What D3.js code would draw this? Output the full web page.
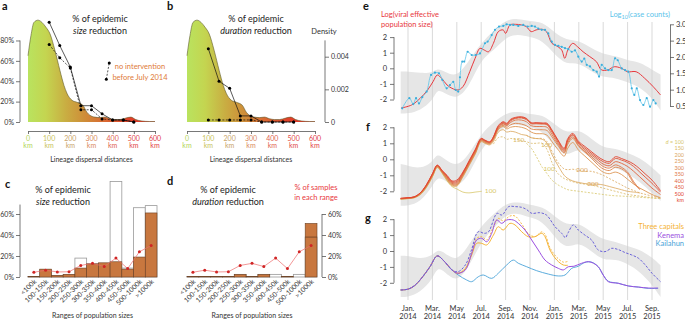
<!DOCTYPE html>
<html><head><meta charset="utf-8">
<script src="https://cdn.jsdelivr.net/npm/d3@7"></script>
<style>
body{margin:0;background:#fff;}
svg{display:block;font-family:Lato,'Open Sans',sans-serif;}
</style></head><body>
<svg id="chart" width="685" height="319"></svg>
<script>
// ---------------- DATA: panels a & b ----------------
const densKm  = [0,14,28,47,66,85,104,127,151,170,184,208,231,259,278,292,316,340,363,387,410,434,462,486,509,538,575,600];
const densVal = [4.06,5.3,6.1,6.24,6.1,5.8,5.4,4.4,3.15,2.24,1.76,1.33,1.21,1.03,0.6,0.42,0.3,0.27,0.3,0.2,0.15,0.15,0.24,0.3,0.15,0.06,0.03,0.03]; // x1e-3
const distKm       = [100,150,200,250,300,350,400,450,500];
const sizeRed      = [98,75,54,16,16,8,2,2,0];
const sizeRedNoInt = [76,63,53,12,12,3,2,2,0];
const durRed       = [72,40,33,6,6,0,0,0,0];
const durRedNoInt  = [2,2,2,2,2,0,0,0,0];
const kmTicks      = [0,100,200,300,400,500,600];
const kmTickColors = ["#b3d55a","#c8c35c","#c9a46a","#d98a60","#e0634f","#e24a48","#e23a3f"];
const pctTicksA    = [0,20,40,60,80];
const densTicks    = [0,0.002,0.004];

// ---------------- DATA: panels c & d ----------------
const popCats   = ["<100k","100-150k","150-200k","200-250k","250-300k","300-350k","350-400k","400-450k","450-500k","500-1000k",">1000k"];
const cSize      = [0.5,7.5,1.5,2.5,8.5,12.5,13.5,14.5,7.5,19,61];
const cSizeNoInt = [0.5,7,1.5,2.5,18,12.5,13,91,8.5,66,68];
const dDur       = [0.4,0.4,0.4,0.4,2.5,0.4,2.5,0,0.4,0,51];
const dDurNoInt  = [0.4,0.4,0.4,0.4,2.5,0.4,2.5,2.5,0.4,2.5,38];
const sampPct    = [4.5,6.5,4.8,5,11,13,10,18,8,24,30];
const pctTicksCD = [0,20,40,60];

// ---------------- DATA: panels e, f, g (time in months since Jan 2014) ----------------
const monthTicks = [0,2,4,6,8,10,12,14,16,18,20];
const monthLab = ["Jan.","Mar.","May","Jul.","Sep.","Nov.","Jan.","Mar.","May","Jul.","Sep."];
const yearLab  = ["2014","2014","2014","2014","2014","2014","2015","2015","2015","2015","2015"];

const neT = [-0.57,0.3,1,1.6,2.05,2.4,2.75,3.2,3.6,4.1,4.5,5.06,5.5,5.9,6.25,6.6,7,7.4,7.8,8,8.36,8.8,9.3,9.7,10.1,10.5,11,11.35,11.8,12.3,12.6,12.85,13.1,13.5,13.9,14.35,14.9,15.45,15.85,16.4,16.9,17.5,18,18.7,19.4,20.1,20.7];
const neV = [-2.55,-2.35,-1.92,-1.4,-0.86,-0.43,-0.64,-1.07,-1.28,-1.39,-1.18,-0.22,0.64,1.28,1.17,1.06,1.6,2.35,2.46,2.24,2.78,2.82,2.78,2.67,2.35,2.46,2.5,2.35,1.6,1.38,1.17,0.64,1.17,1.6,1.38,1.06,0.75,0.42,-0.1,-0.1,0.1,0,-0.22,-0.22,-0.64,-1.18,-1.71];
const caseT = [-0.47,0.11,0.43,0.66,0.9,1.17,1.53,1.89,2.21,2.54,2.81,3.17,3.44,3.71,3.91,4.12,4.26,4.45,4.61,4.89,5.22,5.55,5.9,6.31,6.53,6.86,7.13,7.46,7.81,8.09,8.36,8.63,9.04,9.45,9.81,10.14,10.41,10.68,10.96,11.23,11.5,11.78,12.05,12.32,12.6,12.87,13.14,13.42,13.69,13.96,14.24,14.45,14.65,14.92,15.19,15.47,15.66,15.88,16.15,16.42,16.7,16.97,17.19,17.52,17.79,18.06,18.34,18.55,18.75,19.02,19.29,19.57,19.84,20.11,20.3];
const caseV = [0.43,0.74,0.56,0.74,0.58,0.77,0.94,1.45,1.52,1.5,1.3,1.04,1.14,1.24,0.99,0.94,1.38,1.86,1.86,2.16,2.06,2.06,2.11,2.42,2.47,2.67,2.83,2.93,2.95,3.0,2.98,2.98,2.95,2.98,2.93,2.95,2.93,2.87,2.83,2.83,2.72,2.47,2.37,2.34,2.31,2.27,2.24,2.16,2.2,2.01,1.86,1.95,1.76,1.71,1.6,1.55,1.4,1.76,1.65,1.6,1.6,1.96,1.9,1.65,1.6,1.55,1.04,0.84,1.04,0.68,0.53,0.74,0.48,0.68,0.58];

const bandT = [-0.6,0,1,2,2.4,3,4,5,6,7,8,9,10,11,12,13,14,15,16,17,18,19,20,20.7];
const eHi = [-0.2,-0.2,-0.3,-0.3,0.0,-0.2,-0.6,0.5,1.6,2.4,3.1,3.2,3.0,3.0,2.3,1.8,1.8,1.3,0.9,0.8,0.5,0.4,-0.1,-0.4];
const eLo = [-2.9,-2.9,-2.7,-2.1,-1.3,-1.6,-2.0,-1.2,0.6,1.1,2.0,2.2,2.0,1.8,0.9,0.2,0.4,-0.2,-0.6,-0.6,-0.9,-1.2,-1.9,-2.7];
const fHi = [-0.3,-0.4,-0.6,-0.2,0.4,0.0,-0.5,0.3,1.6,2.3,2.9,3.0,2.8,2.8,2.2,1.6,1.9,1.3,0.7,0.7,0.4,0.1,-0.5,-1.0];
const fLo = [-2.9,-2.9,-2.7,-1.7,-1.1,-1.3,-1.8,-1.0,0.7,1.4,2.1,2.2,2.0,1.8,0.8,0.1,0.8,0.0,-0.5,-0.5,-0.9,-1.4,-2.1,-2.6];
const gHi = [-0.3,-0.3,-0.5,-0.3,0.1,-0.1,-0.7,0.4,1.6,2.3,3.0,3.1,2.9,2.8,2.2,1.6,1.8,1.2,0.7,0.6,0.3,0.1,-0.4,-0.9];
const gLo = [-2.9,-2.9,-2.6,-1.8,-1.0,-1.3,-2.0,-1.0,0.6,1.4,2.3,2.4,2.1,1.9,0.9,0.1,0.6,0.0,-0.6,-0.5,-0.8,-1.3,-2.1,-2.9];

const fT = [-0.6,0,0.5,1,1.5,2,2.4,2.8,3.2,3.6,4,4.5,5,5.5,6,6.3,6.7,7,7.4,7.8,8.1,8.4,8.8,9.3,9.7,10.1,10.5,11,11.4,11.8,12.3,12.8,13.1,13.5,14,14.5,15,15.5,16,16.5,17,17.5,18,18.5,19,19.5,20,20.7];
const f500 = [-2.44,-2.4,-2.35,-2.1,-1.6,-0.9,-0.36,-0.7,-1.0,-1.35,-1.3,-0.8,-0.1,0.6,1.31,1.2,1.1,1.41,2.1,2.35,2.25,2.5,2.62,2.66,2.56,2.29,2.29,2.27,2.25,1.83,1.2,0.69,1.3,1.62,1.1,0.8,0.5,0.2,-0.04,-0.15,0.16,0.05,-0.1,-0.3,-0.6,-0.95,-1.3,-1.96];
const f450 = [-2.44,-2.4,-2.35,-2.1,-1.62,-0.92,-0.38,-0.72,-1.05,-1.4,-1.38,-0.85,-0.15,0.55,1.28,1.18,1.08,1.38,2.05,2.3,2.2,2.45,2.58,2.62,2.52,2.26,2.26,2.24,2.2,1.78,1.15,0.62,1.22,1.55,1.02,0.7,0.4,0.1,-0.15,-0.25,0.05,-0.05,-0.2,-0.45,-0.8,-1.15,-1.5,-2.05];
const f400 = [-2.45,-2.41,-2.36,-2.12,-1.64,-0.95,-0.4,-0.75,-1.1,-1.45,-1.45,-0.9,-0.2,0.5,1.25,1.15,1.05,1.35,2.0,2.25,2.15,2.4,2.55,2.58,2.48,2.22,2.22,2.2,2.15,1.7,1.05,0.55,1.15,1.5,0.95,0.6,0.3,0.0,-0.3,-0.4,-0.15,-0.25,-0.45,-0.75,-1.1,-1.45,-1.8,-2.2];
const f350 = [-2.46,-2.42,-2.37,-2.14,-1.66,-0.98,-0.42,-0.78,-1.15,-1.5,-1.52,-0.95,-0.25,0.45,1.22,1.12,1.02,1.3,1.95,2.2,2.1,2.3,2.45,2.45,2.35,2.1,2.05,2.05,2.0,1.55,0.95,0.45,1.05,1.4,0.85,0.5,0.2,-0.15,-0.45,-0.55,-0.35,-0.5,-0.8,-1.4,-1.9,null,null,null];
const f300 = [-2.47,-2.43,-2.38,-2.16,-1.7,-1.02,-0.45,-0.8,-1.2,-1.55,-1.58,-1.0,-0.3,0.4,1.18,1.08,0.98,1.25,1.9,2.12,2.0,2.15,2.25,2.2,2.1,1.9,1.85,1.85,1.8,1.4,0.85,0.4,0.95,1.3,0.8,0.45,0.1,-0.3,-0.6,-0.7,-0.5,-0.6,-0.9,-1.5,-1.85,null,null,null];
const f250 = [-2.48,-2.44,-2.39,-2.18,-1.72,-1.05,-0.48,-0.82,-1.25,-1.6,-1.62,-1.05,-0.35,0.35,1.15,1.05,0.95,1.2,1.85,2.05,1.9,2.0,2.05,2.0,1.9,1.7,1.6,1.6,1.5,1.1,0.6,0.2,0.7,1.05,0.55,0.2,-0.15,-0.5,-0.8,-0.9,-0.8,-0.95,-1.25,-1.55,-1.8,-2.0,-2.2,-2.4];
const f200 = [-2.49,-2.45,-2.4,-2.2,-1.75,-1.08,-0.5,-0.85,-1.3,-1.65,-1.68,-1.1,-0.4,0.3,1.1,1.0,0.9,1.1,1.7,1.85,1.7,1.75,1.7,1.55,1.5,1.35,1.3,1.25,1.0,0.3,-0.4,-1.0,-1.2,-1.35,-1.45,-1.52,-1.55,-1.55,-1.6,-1.7,-1.8,-1.9,-2.0,-2.05,-2.1,null,null,null];
const f200d = [null,null,null,null,null,null,null,null,null,null,null,null,null,null,null,null,null,null,null,null,null,null,null,null,1.5,1.35,1.3,1.3,1.1,0.5,-0.2,-0.6,-0.65,-0.62,-0.7,-0.75,-0.75,-0.85,-1.0,-1.2,-1.4,-1.6,-1.8,-1.95,-2.1,-2.2,-2.3,-2.4];
const f150d = [null,null,null,null,null,null,null,null,null,null,null,null,null,null,null,null,null,0.95,1.35,1.4,1.25,1.3,1.25,1.15,1.1,1.0,1.0,1.0,0.6,-0.2,-0.9,-1.2,-1.3,-1.4,-1.5,-1.55,-1.6,-1.7,-1.8,-1.9,-2.0,-2.1,-2.2,-2.25,-2.3,-2.35,-2.4,-2.45];
const f100d = [null,null,null,null,null,null,null,null,null,null,null,null,null,null,null,null,null,null,null,null,null,null,null,null,1.0,0.7,0.2,-0.5,-0.9,-1.3,-1.6,-1.8,-1.9,-1.95,-2.0,-2.05,-2.1,-2.15,-2.2,-2.25,-2.28,-2.3,-2.32,-2.35,-2.37,-2.4,-2.42,-2.45];
const f100T = [-0.6,0,0.5,1,1.5,2,2.4,2.8,3.2,3.6,4,4.5,5,5.5,6.05];
const f100  = [-2.5,-2.46,-2.41,-2.22,-1.78,-1.1,-0.52,-0.88,-1.35,-1.7,-1.85,-2.05,-2.1,-2.05,-2.0];
const fLegend = ["100","150","200","250","300","350","400","450","500"];

const gOverallT = [-0.6,0,0.5,1.1,1.8,2.4,3.0,3.6,4.1,4.7,5.2,5.75,6.25,6.6,7.3,7.7,8.25,8.8,9.3,9.7,10.15,10.8,11.35,12.05,12.6,12.9,13.1,13.55,13.96,14.5,15.05,15.6,16.15,16.7,17.2,17.8,18.34,18.9,19.45,20,20.7];
const gOverallV = [-2.45,-2.4,-2.2,-1.72,-0.99,-0.31,-0.67,-1.19,-1.3,-0.88,0.06,1.21,1.11,1.21,2.37,2.26,2.79,2.79,2.75,2.62,2.37,2.41,2.26,1.53,1.11,0.84,1.11,1.64,1.32,1.0,0.69,0.06,-0.04,0.17,0.1,-0.1,-0.25,-0.46,-0.88,-1.4,-1.93];
const gKenemaT = [-0.6,0,0.5,1.1,1.8,2.4,3.0,3.6,4.1,4.7,5.22,5.63,6.04,6.45,6.86,7.27,7.68,8.09,8.63,9.04,9.59,10.14,10.68,11.23,11.78,12.32,12.73,13.14,13.6,14.24,14.78,15.2,15.6,16.0,16.42,17.24,18.06,18.9,19.7,20.5];
const gKenemaV = [-2.45,-2.4,-2.2,-1.72,-0.99,-0.31,-0.67,-1.19,-1.4,-1.19,-0.15,0.69,0.8,0.58,1.11,1.95,1.74,1.95,1.95,1.74,1.32,0.69,0.06,-0.57,-0.88,-1.09,-1.19,-0.99,-0.96,-0.77,-0.67,-0.77,-0.99,-1.51,-1.93,-2.03,-2.2,-2.27,-2.33,-2.33];
const gKailahunT = [-0.6,0,0.5,1.1,1.8,2.4,3.0,3.6,4.12,4.8,5.22,5.76,6.17,6.86,7.4,8.09,8.63,9.04,9.73,10.55,11.5,12.32,12.87,13.42,13.96,14.5,15.05,15.6,16.0,16.42,17.24,18.06,18.9,19.7,20.5];
const gKailahunV = [-2.45,-2.4,-2.2,-1.72,-0.99,-0.31,-0.67,-1.19,-1.51,-1.82,-1.93,-1.62,-1.51,-1.72,-1.4,-0.88,-0.57,-0.77,-0.99,-1.24,-1.45,-1.57,-1.51,-1.09,-0.96,-0.72,-0.7,-1.0,-1.51,-1.9,-2.03,-2.2,-2.27,-2.35,-2.35];
const gCapT = [-0.6,0,0.5,1.1,1.8,2.4,3.0,3.6,4.1,4.7,5.22,5.63,6.04,6.45,7.0,7.4,7.8,8.36,8.77,9.32,9.86,10.4,10.96,11.23,11.64,12.2,12.73,13.1];
const gCapV = [-2.45,-2.4,-2.2,-1.72,-0.99,-0.31,-0.67,-1.19,-1.4,-1.1,-0.25,0.48,0.48,0.38,1.0,1.53,1.32,1.74,1.64,1.21,0.9,0.9,1.11,0.9,0.06,-0.57,-0.88,-0.9];
const gCapDashV = [-2.45,-2.4,-2.2,-1.72,-0.99,-0.31,-0.67,-1.19,-1.42,-1.12,-0.1,0.8,0.9,0.7,1.5,2.05,1.9,2.2,2.2,1.7,1.1,0.9,1.2,1.05,0.2,-0.4,-0.7,-0.65];

// ---------------- DRAWING ----------------
const svg = d3.select("#chart");
const FONT = "Lato,'Open Sans',sans-serif";
const defs = svg.append("defs");
const AX = "#555", TXT = "#333";

function styleAxis(g, fs){
  g.attr("font-family", FONT).attr("font-size", fs || 7);
  g.selectAll("line").attr("stroke", AX).attr("stroke-width", 0.8);
  g.selectAll("path").attr("stroke", AX).attr("stroke-width", 0.8);
  g.selectAll("text").attr("fill", TXT);
}
function text(x, y, s, o){
  o = o || {};
  const t = svg.append("text").attr("x", x).attr("y", y).text(s)
    .attr("font-size", o.fs || 8).attr("fill", o.fill || TXT)
    .attr("text-anchor", o.anchor || "start").attr("font-family", FONT);
  if (o.bold) t.attr("font-weight", "bold");
  if (o.italic) t.attr("font-style", "italic");
  return t;
}
function twoLineTitle(x, y1, y2, word){
  text(x, y1, "% of epidemic", {fs: 9, anchor: "middle", fill: "#222"});
  const t = text(x, y2, "", {fs: 9, anchor: "middle", fill: "#222"});
  t.append("tspan").attr("font-style", "italic").text(word);
  t.append("tspan").text(" reduction");
}

[["a",2,10],["b",167,10],["c",5,188],["d",167,185],["e",363,10],["f",366,131],["g",365,222]]
  .forEach(([l,x,y]) => text(x, y, l, {fs: 11, bold: true, fill: "#111"}));

// ---- panels a, b ----
const xA = d3.scaleLinear().domain([0,600]).range([28,155]);
const xB = d3.scaleLinear().domain([0,600]).range([187,315]);
const yPct = d3.scaleLinear().domain([0,100]).range([122,20.1]);
const yDen = d3.scaleLinear().domain([0,0.004]).range([122,56.7]);
const gradStops = [[0,"#b9e35f"],[0.14,"#c4d550"],[0.3,"#c9ad42"],[0.45,"#cf8c38"],[0.6,"#d96a32"],[0.78,"#e0432a"],[1,"#e32c24"]];

function densPanel(x, gid){
  const gr = defs.append("linearGradient").attr("id", gid).attr("gradientUnits","userSpaceOnUse")
    .attr("x1", x(0)).attr("x2", x(600)).attr("y1", 0).attr("y2", 0);
  gradStops.forEach(([o,c]) => gr.append("stop").attr("offset", o).attr("stop-color", c));
  const area = d3.area().x((d,i) => x(densKm[i])).y0(yDen(0)).y1(d => yDen(d/1000)).curve(d3.curveMonotoneX);
  svg.append("path").datum(densVal).attr("d", area).attr("fill", `url(#${gid})`);
  const ln = d3.line().x((d,i) => x(densKm[i])).y(d => yDen(d/1000)).curve(d3.curveMonotoneX);
  svg.append("path").datum(densVal).attr("d", ln).attr("fill","none").attr("stroke","#5e5b2c").attr("stroke-width",0.6);
  const ax = svg.append("g").attr("transform","translate(0,131)")
    .call(d3.axisBottom(x).tickValues(kmTicks).tickSize(3).tickSizeOuter(0).tickFormat(""));
  styleAxis(ax);
  kmTicks.forEach((k,i) => {
    text(x(k), 141, String(k), {fs: 7, anchor: "middle", fill: kmTickColors[i]});
    text(x(k), 148, "km", {fs: 7, anchor: "middle", fill: kmTickColors[i]});
  });
  text((x(0)+x(600))/2, 162, "Lineage dispersal distances", {fs: 7, anchor: "middle"});
}
function ptsLine(x, vals, dashed){
  const ln = d3.line().x((d,i) => x(distKm[i])).y(d => yPct(d));
  svg.append("path").datum(vals).attr("d", ln).attr("fill","none").attr("stroke","#111")
    .attr("stroke-width",0.7).attr("stroke-dasharray", dashed ? "2,1.5" : null);
  svg.append("g").selectAll("circle").data(vals).join("circle")
    .attr("cx",(d,i) => x(distKm[i])).attr("cy", d => yPct(d)).attr("r",1.5).attr("fill","#000");
}
densPanel(xA, "gA");
densPanel(xB, "gB");
ptsLine(xA, sizeRed, false);
ptsLine(xA, sizeRedNoInt, true);
ptsLine(xB, durRed, false);
ptsLine(xB, durRedNoInt, true);

{
  const g = svg.append("g").attr("transform","translate(20,0)")
    .call(d3.axisLeft(yPct).tickValues(pctTicksA).tickFormat(d => d + "%").tickSize(4).tickPadding(2));
  g.select(".domain").remove();
  g.append("line").attr("y1", yPct(0)).attr("y2", yPct(80));
  styleAxis(g, 7);
}
{
  const g = svg.append("g").attr("transform","translate(325,0)")
    .call(d3.axisRight(yDen).tickValues(densTicks).tickFormat(d => d === 0 ? "0" : d3.format(".3f")(d)).tickSize(4).tickPadding(2));
  g.select(".domain").remove();
  g.append("line").attr("y1", yDen(0)).attr("y2", yDen(0.005));
  styleAxis(g, 7);
  text(324, 34, "Density", {fs: 7.5, anchor: "middle"});
}
twoLineTitle(100, 22, 34, "size");
twoLineTitle(256, 22, 34, "duration");
{
  const p = [[xA(370), yPct(42)], [xA(384), yPct(58)]];
  svg.append("path").attr("d", d3.line()(p)).attr("stroke","#111").attr("stroke-width",0.7).attr("stroke-dasharray","2,1.5");
  p.forEach(q => svg.append("circle").attr("cx", q[0]).attr("cy", q[1]).attr("r", 1.5).attr("fill","#000"));
  text(140, 69, "no intervention", {fs: 7.5, anchor: "middle", fill: "#e07b39"});
  text(140, 80, "before July 2014", {fs: 7.5, anchor: "middle", fill: "#e07b39"});
}

// ---- panels c, d ----
const xC = d3.scaleBand().domain(popCats).range([28,157]).padding(0);
const xD = d3.scaleBand().domain(popCats).range([187,317]).padding(0);
const yBar = d3.scaleLinear().domain([0,100]).range([277,172]);
const BROWN = "#c8773f", BROWN_D = "#6b4023";

function barPanel(x, filled, hollow, axisSide){
  const bw = x.bandwidth();
  svg.append("g").selectAll("rect").data(popCats).join("rect")
    .attr("x", d => x(d)).attr("width", bw)
    .attr("y", (d,i) => yBar(hollow[i])).attr("height", (d,i) => yBar(0) - yBar(hollow[i]))
    .attr("fill","#fff").attr("stroke","#9a9a9a").attr("stroke-width",0.8);
  svg.append("g").selectAll("rect").data(popCats).join("rect")
    .attr("x", d => x(d)).attr("width", bw)
    .attr("y", (d,i) => yBar(filled[i])).attr("height", (d,i) => yBar(0) - yBar(filled[i]))
    .attr("fill", BROWN).attr("stroke", BROWN_D).attr("stroke-width",0.6)
    .attr("display", (d,i) => filled[i] > 0 ? null : "none");
  svg.append("g").selectAll("line").data(popCats.filter((d,i) => hollow[i] < filled[i] - 3)).join("line")
    .attr("x1", d => x(d)).attr("x2", d => x(d) + bw)
    .attr("y1", d => yBar(hollow[popCats.indexOf(d)])).attr("y2", d => yBar(hollow[popCats.indexOf(d)]))
    .attr("stroke", BROWN_D).attr("stroke-width", 0.8);
  const ln = d3.line().x((d,i) => x(popCats[i]) + bw/2).y(d => yBar(d));
  svg.append("path").datum(sampPct).attr("d", ln).attr("fill","none").attr("stroke","#ec6a6a").attr("stroke-width",0.7);
  svg.append("g").selectAll("circle").data(sampPct).join("circle")
    .attr("cx", (d,i) => x(popCats[i]) + bw/2).attr("cy", d => yBar(d)).attr("r", 1.5).attr("fill","#d02525");
  popCats.forEach(c => {
    const cx = x(c) + bw/2 + 3, cy = 282;
    text(cx, cy, c, {fs: 6.8, anchor: "end"}).attr("transform", `rotate(-45,${cx},${cy})`);
  });
  text((x.range()[0] + x.range()[1]) / 2, 317.5, "Ranges of population sizes", {fs: 7, anchor: "middle"});
  if (axisSide === "left") {
    const g = svg.append("g").attr("transform","translate(20,0)")
      .call(d3.axisLeft(yBar).tickValues(pctTicksCD).tickFormat(d => d + "%").tickSize(4).tickPadding(2));
    g.select(".domain").remove();
    g.append("line").attr("y1", yBar(0)).attr("y2", yBar(69));
    styleAxis(g, 7);
  } else {
    const g = svg.append("g").attr("transform","translate(322,0)")
      .call(d3.axisRight(yBar).tickValues(pctTicksCD).tickFormat(d => d + "%").tickSize(4).tickPadding(2));
    g.select(".domain").remove();
    g.append("line").attr("y1", yBar(0)).attr("y2", yBar(60));
    styleAxis(g, 7);
  }
}
barPanel(xC, cSize, cSizeNoInt, "left");
barPanel(xD, dDur, dDurNoInt, "right");
twoLineTitle(63, 193, 205, "size");
twoLineTitle(228, 192.5, 204.5, "duration");
text(316, 190, "% of samples", {fs: 7.5, anchor: "middle", fill: "#e8383d"});
text(316, 200, "in each range", {fs: 7.5, anchor: "middle", fill: "#e8383d"});

// ---- panels e, f, g ----
const xT = d3.scaleLinear().domain([0,20]).range([408,652]);
const yE = d3.scaleLinear().domain([-3,3]).range([115.1,21.5]);
const yE2 = d3.scaleLinear().domain([0.5,3.0]).range([106,24.3]);
const yF = d3.scaleLinear().domain([-3,3]).range([207.3,111.3]);
const yG = d3.scaleLinear().domain([-3,3]).range([298.7,203.3]);

function band(y, hi, lo){
  const a = d3.area().x((d,i) => xT(bandT[i])).y0((d,i) => y(lo[i])).y1((d,i) => y(hi[i])).curve(d3.curveBasis);
  svg.append("path").datum(bandT).attr("d", a).attr("fill","#e6e6e6");
}
band(yE, eHi, eLo); band(yF, fHi, fLo); band(yG, gHi, gLo);
svg.append("g").selectAll("line").data(monthTicks).join("line")
  .attr("x1", d => xT(d)).attr("x2", d => xT(d)).attr("y1", 22).attr("y2", 300)
  .attr("stroke","#cfcfcf").attr("stroke-width",0.8);

function series(y, T, V, color, w, dash){
  const ln = d3.line().defined(d => d != null).x((d,i) => xT(T[i])).y(d => y(d)).curve(d3.curveCatmullRom);
  return svg.append("path").datum(V).attr("d", ln).attr("fill","none").attr("stroke", color)
    .attr("stroke-width", w || 0.9).attr("stroke-dasharray", dash || null);
}
function leftAxis(y){
  const g = svg.append("g").attr("transform","translate(394,0)")
    .call(d3.axisLeft(y).tickValues([-2,-1,0,1,2]).tickFormat(d => d < 0 ? "-" + Math.abs(d) : String(d)).tickSize(4).tickPadding(3));
  g.select(".domain").remove();
  g.append("line").attr("y1", y(-2)).attr("y2", y(2));
  styleAxis(g, 7.5);
}
leftAxis(yE); leftAxis(yF); leftAxis(yG);

// e
series(yE, neT, neV, "#e8383d", 1);
series(yE2, caseT, caseV, "#5cc4ea", 0.8);
svg.append("g").selectAll("circle").data(caseV).join("circle")
  .attr("cx", (d,i) => xT(caseT[i])).attr("cy", d => yE2(d)).attr("r", 1.1).attr("fill","#3aaedc");
{
  const g = svg.append("g").attr("transform","translate(670,0)")
    .call(d3.axisRight(yE2).tickValues([0.5,1,1.5,2,2.5,3]).tickFormat(d3.format(".1f")).tickSize(4).tickSizeOuter(0).tickPadding(2));
  styleAxis(g, 7.5);
}
text(381, 17, "Log(viral effective", {fs: 7.5, fill: "#e8383d"});
text(381, 27, "population size)", {fs: 7.5, fill: "#e8383d"});
{
  const t = text(670, 17, "", {fs: 7.5, fill: "#5cc4ea", anchor: "end"});
  t.append("tspan").text("Log");
  t.append("tspan").attr("font-size", 5.5).attr("dy", 2).text("10");
  t.append("tspan").attr("dy", -2).text("(case counts)");
}

// f
const fCol = d3.scaleLinear().domain([100,500]).range(["#d8c76a","#e2422e"]);
series(yF, f100T, f100, fCol(100), 0.8);
series(yF, fT, f100d, fCol(100), 0.8, "2,1.5");
series(yF, fT, f150d, fCol(150), 0.8, "2,1.5");
series(yF, fT, f200d, fCol(200), 0.8, "2,1.5");
series(yF, fT, f200, fCol(200), 0.8);
series(yF, fT, f250, fCol(250), 0.9);
series(yF, fT, f300, fCol(300), 0.9);
series(yF, fT, f350, fCol(350), 0.9);
series(yF, fT, f400, fCol(400), 0.9);
series(yF, fT, f450, fCol(450), 0.9);
series(yF, fT, f500, fCol(500), 0.9);
[[6.3,-2.0,"100",100],[8.6,1.2,"150",150],[10.9,0.9,"150",150],[11.1,-0.6,"100",100],[13.8,-0.65,"200",200],[14.7,-1.55,"200",200]]
  .forEach(([m,v,s,d]) => text(xT(m), yF(v) + 2, s, {fs: 6.5, fill: fCol(d)}));
{
  const step = 6.5, y0 = 143.5, fs = 5.4;
  const t = text(684, y0, "", {fs: fs, anchor: "end", fill: fCol(100)});
  t.append("tspan").attr("font-style","italic").text("d");
  t.append("tspan").text(" = 100");
  fLegend.slice(1).forEach((s,i) => text(684, y0 + (i+1)*step, s, {fs: fs, anchor: "end", fill: fCol(+s)}));
  text(684, y0 + 9*step, "km", {fs: fs, anchor: "end", fill: fCol(500)});
}

// g
series(yG, gKailahunT, gKailahunV, "#4aa3d8", 0.9);
series(yG, gCapT, gCapDashV, "#f5b335", 0.9, "2,1.5");
series(yG, gCapT, gCapV, "#f5b335", 1);
series(yG, gKenemaT, gKenemaV, "#9b4fe0", 1);
series(yG, gOverallT, gOverallV, "#6a62d8", 1, "2.5,1.5");
text(684, 229, "Three capitals", {fs: 7.5, anchor: "end", fill: "#f5b335"});
text(684, 237.5, "Kenema", {fs: 7.5, anchor: "end", fill: "#9b4fe0"});
text(684, 246, "Kailahun", {fs: 7.5, anchor: "end", fill: "#4aa3d8"});

monthTicks.forEach((m,i) => {
  text(xT(m), 310.5, monthLab[i], {fs: 7.5, anchor: "middle"});
  text(xT(m), 318.5, yearLab[i], {fs: 7.5, anchor: "middle"});
});
</script>
</body></html>
